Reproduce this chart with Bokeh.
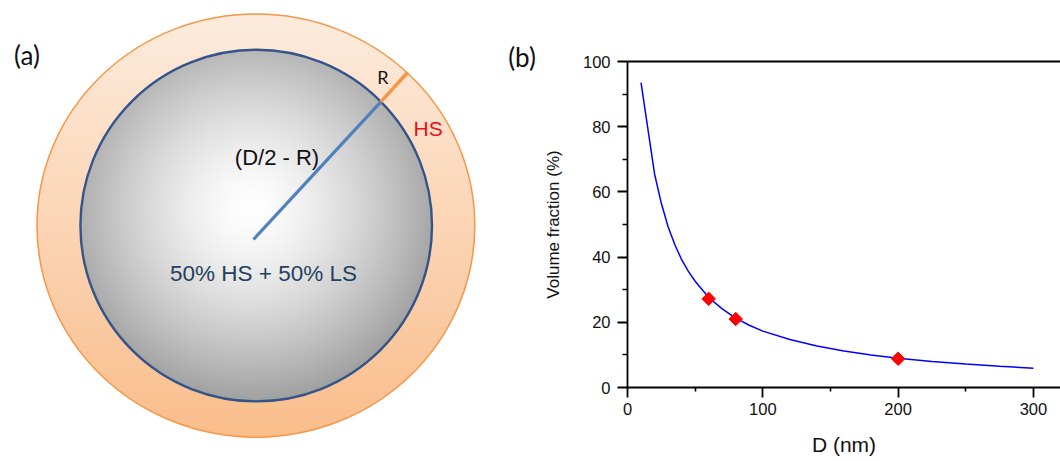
import numpy as np
from bokeh.plotting import figure
from bokeh.layouts import row
from bokeh.models import Range1d, LinearAxis, FixedTicker
from bokeh.core.properties import value
from bokeh.embed import file_html
from bokeh.resources import INLINE

# ---------------- data (panel b) ----------------
diameter_nm = [10, 15, 20, 25, 30, 35, 40, 45, 50, 60, 70, 80, 90, 100,
               120, 140, 160, 180, 200, 225, 250, 275, 300]
volume_fraction = [93.5, 79.5, 65.5, 56.5, 49.3, 43.8, 39.2, 35.6, 32.6, 27.6,
                   24.1, 21.3, 19.1, 17.3, 14.7, 12.7, 11.2, 10.0, 9.0, 8.0,
                   7.2, 6.5, 5.9]
measured_D = [60, 80, 200]
measured_fraction = [27.2, 21.0, 8.8]
x_ticks = [0, 100, 200, 300]
x_minor = [50, 150, 250]
y_ticks = [0, 20, 40, 60, 80, 100]
y_minor = [10, 30, 50, 70, 90]

# ---------------- layout constants ----------------
WL, H = 540, 461
BORDER_TOP, BORDER_BOTTOM = 61, 74

# ---------------- schematic geometry (panel a, screen px) ----------------
OUT_CX, OUT_CY, OUT_RX, OUT_RY = 255.4, 225.1, 218.9, 211.6
IN_CX, IN_CY, IN_R = 255.7, 225.1, 175.8
CENTER_PT = (253.0, 239.0)
RIM_PT = (380.3, 101.4)
SHELL_PT = (407.3, 71.7)

def Y(sy):
    return H - sy

# gradient image
ys, xs = np.mgrid[0:H, 0:WL].astype(float) + 0.5
d_out = np.sqrt(((xs - OUT_CX) / OUT_RX) ** 2 + ((ys - OUT_CY) / OUT_RY) ** 2)
a_out = np.clip((1.0 - d_out) * OUT_RY + 0.5, 0, 1)
t = np.clip((ys - (OUT_CY - OUT_RY)) / (2 * OUT_RY), 0, 1)
top_c = np.array([253, 236, 222], float)
bot_c = np.array([250, 190, 140], float)
col = top_c[None, None, :] * (1 - t[..., None]) + bot_c[None, None, :] * t[..., None]

d_in = np.sqrt((xs - IN_CX) ** 2 + (ys - IN_CY) ** 2)
a_in = np.clip(IN_R - d_in + 0.5, 0, 1)
rr = np.clip(np.sqrt((xs - 250.0) ** 2 + (ys - 208.0) ** 2) / 192.0, 0, 1)
g = 255.0 - 94.0 * rr ** 1.45
inner = np.stack([g, g, g], axis=-1)
col = col * (1 - a_in[..., None]) + inner * a_in[..., None]

rgba = np.zeros((H, WL, 4), dtype=np.uint8)
rgba[..., :3] = np.clip(col, 0, 255).astype(np.uint8)
rgba[..., 3] = (a_out * 255).astype(np.uint8)
img = np.flipud(rgba).copy().view(np.uint32).reshape(H, WL)

# the row aligns plot frames, so panel (a) gets the same top/bottom borders;
# its y range covers exactly the frame, and its renderers draw unclipped.
p1 = figure(width=WL, height=H, x_range=Range1d(0, WL),
            y_range=Range1d(BORDER_BOTTOM, H - BORDER_TOP),
            x_axis_type=None, y_axis_type=None,
            min_border_left=0, min_border_right=0,
            min_border_top=BORDER_TOP, min_border_bottom=BORDER_BOTTOM,
            output_backend="svg", toolbar_location=None)
p1.grid.visible = False
p1.outline_line_color = None
p1.background_fill_color = "white"
p1.border_fill_color = "white"

rs = []
rs.append(p1.image_rgba(image=[img], x=0, y=0, dw=WL, dh=H))
rs.append(p1.ellipse(x=[OUT_CX], y=[Y(OUT_CY)], width=[2 * OUT_RX], height=[2 * OUT_RY],
                     fill_color=None, line_color="#F79646", line_width=1.5))
rs.append(p1.ellipse(x=[IN_CX], y=[Y(IN_CY)], width=[2 * IN_R], height=[2 * IN_R],
                     fill_color=None, line_color="#34548A", line_width=2.4))
rs.append(p1.line([CENTER_PT[0], RIM_PT[0]], [Y(CENTER_PT[1]), Y(RIM_PT[1])],
                  line_color="#4F81BD", line_width=3.2))
rs.append(p1.line([RIM_PT[0], SHELL_PT[0]], [Y(RIM_PT[1]), Y(SHELL_PT[1])],
                  line_color="#F79646", line_width=3.6))

sans = value("Liberation Sans")
rs.append(p1.text(x=[276.5], y=[Y(156.5)], text=["(D/2 - R)"], text_font=sans,
                  text_font_size="22px", text_color="#111111", text_align="center",
                  text_baseline="middle"))
rs.append(p1.text(x=[263.0], y=[Y(272.5)], text=["50% HS + 50% LS"], text_font=sans,
                  text_font_size="22.5px", text_color="#243F60", text_align="center",
                  text_baseline="middle"))
rs.append(p1.text(x=[427.6], y=[Y(128.0)], text=["HS"], text_font=sans,
                  text_font_size="21px", text_color="#E8101A", text_align="center",
                  text_baseline="middle"))
rs.append(p1.text(x=[382.3], y=[Y(76.5)], text=["R"], text_font=value("Lato"),
                  text_font_size="18px", text_color="#111111", text_align="center",
                  text_baseline="middle"))
rs.append(p1.text(x=[26.5, 521.5], y=[Y(54.5), Y(56.5)], text=["(a)", "(b)"],
                  text_font=value("Lato"), text_font_size="26px", text_color="#111111",
                  text_align="center", text_baseline="middle"))
for r in rs:
    r.level = "overlay"

# ---------------- panel b ----------------
p2 = figure(width=1060 - WL, height=H, x_range=Range1d(0, 320), y_range=Range1d(0, 100),
            min_border_left=85, min_border_right=0, min_border_top=BORDER_TOP,
            min_border_bottom=BORDER_BOTTOM, output_backend="svg", toolbar_location=None,
            x_axis_label="D (nm)", y_axis_label="Volume fraction (%)")
p2.grid.visible = False
p2.outline_line_color = None
p2.background_fill_color = "white"
p2.border_fill_color = "white"

p2.xaxis.ticker = FixedTicker(ticks=x_ticks, minor_ticks=x_minor)
p2.yaxis.ticker = FixedTicker(ticks=y_ticks, minor_ticks=y_minor)
for ax in (p2.xaxis[0], p2.yaxis[0]):
    ax.axis_line_width = 1.8
    ax.axis_line_color = "black"
    ax.major_tick_line_width = 1.8
    ax.minor_tick_line_width = 1.6
    ax.major_tick_line_color = "black"
    ax.minor_tick_line_color = "black"
    ax.major_tick_in = 0
    ax.minor_tick_in = 0
    ax.major_tick_out = 10
    ax.major_label_text_font = "Liberation Sans"
    ax.major_label_text_font_size = "16.5px"
    ax.major_label_text_color = "#111111"
    ax.axis_label_text_font = "Liberation Sans"
    ax.axis_label_text_font_style = "normal"
    ax.axis_label_text_color = "#111111"
p2.xaxis.minor_tick_out = 4
p2.yaxis.minor_tick_out = 5
p2.xaxis.major_label_standoff = 5
p2.yaxis.major_label_standoff = 7
p2.xaxis.axis_label_text_font_size = "21px"
p2.yaxis.axis_label_text_font_size = "17px"
p2.xaxis.axis_label_standoff = 15
p2.yaxis.axis_label_standoff = 17

top = LinearAxis(ticker=FixedTicker(ticks=[]), major_label_text_font_size="0px",
                 axis_line_width=1.8, axis_line_color="black",
                 major_tick_out=0, minor_tick_out=0, major_tick_in=0, minor_tick_in=0)
p2.add_layout(top, "above")

p2.line(diameter_nm, volume_fraction, line_color="#0000FF", line_width=1.5)
p2.scatter(measured_D, measured_fraction, marker="square", angle=np.pi / 4,
           size=9.5, fill_color="#FF0000", line_color="#FF0000")

layout = row(p1, p2)
open("out.html", "w").write(file_html(layout, INLINE))
